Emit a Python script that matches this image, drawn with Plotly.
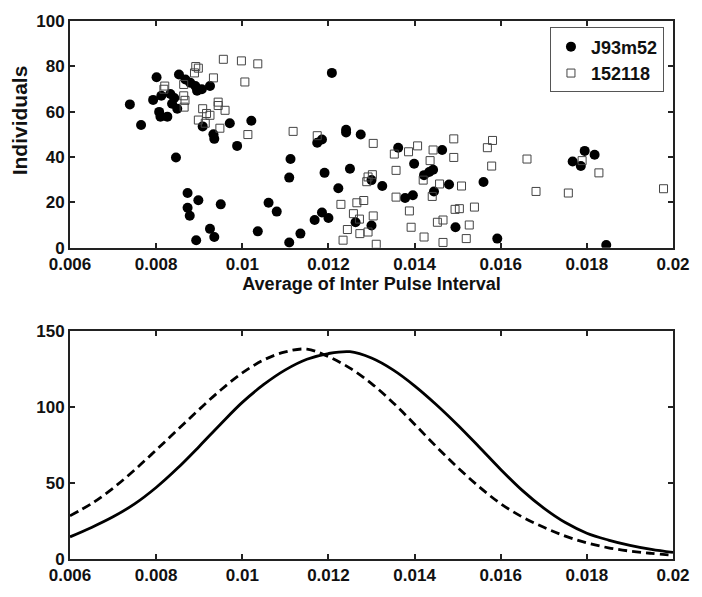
import plotly.graph_objects as go

# ---- top panel data (scatter) ----
j93_x = [0.00739, 0.00765, 0.00801, 0.00793, 0.00812, 0.00807, 0.00810, 0.00826, 0.00833, 0.00837,
         0.00849, 0.00842, 0.00853, 0.00868, 0.00879, 0.00891, 0.00895, 0.00906, 0.00925, 0.00908,
         0.00933, 0.00935, 0.00971, 0.01021, 0.00988, 0.00846, 0.00873, 0.00898, 0.00873, 0.00878,
         0.00950, 0.00925, 0.00935, 0.00893, 0.01208, 0.01112, 0.01109, 0.01174, 0.01185, 0.01191,
         0.01223, 0.01061, 0.01080, 0.01036, 0.01135, 0.01109, 0.01168, 0.01185, 0.01200, 0.01241,
         0.01241, 0.01275, 0.01362, 0.01464, 0.01250, 0.01399, 0.01300, 0.01325, 0.01422, 0.01434,
         0.01443, 0.01445, 0.01480, 0.01378, 0.01396, 0.01263, 0.01300, 0.01495, 0.01560, 0.01592,
         0.01767, 0.01786, 0.01795, 0.01818, 0.01845]
j93_y = [63.2, 54.1, 75.2, 65.2, 67.0, 59.9, 57.8, 57.8, 67.8, 63.5,
         61.3, 66.0, 76.4, 74.2, 72.8, 71.3, 69.2, 69.9, 71.3, 53.5,
         50.0, 48.0, 54.9, 56.0, 44.9, 39.8, 24.1, 20.9, 17.6, 14.1,
         19.1, 8.3, 4.7, 3.3, 77.1, 39.1, 30.9, 46.3, 47.7, 33.0,
         26.2, 19.8, 15.9, 7.2, 6.2, 2.3, 12.2, 15.5, 13.1, 52.0,
         50.8, 49.9, 44.1, 43.1, 34.8, 37.0, 29.8, 27.2, 32.0, 33.4,
         34.4, 24.8, 27.9, 21.9, 23.1, 11.2, 9.8, 9.0, 29.0, 4.0,
         38.0, 36.0, 42.7, 41.0, 1.2]

s152_x = [0.00956, 0.00892, 0.00898, 0.00889, 0.00933, 0.00864, 0.00820, 0.00818, 0.00864, 0.00867,
          0.00865, 0.00944, 0.00944, 0.00908, 0.00917, 0.00925, 0.00898, 0.00914, 0.00948, 0.00960,
          0.00998, 0.01036, 0.01006, 0.01013, 0.01118, 0.01174, 0.01304, 0.01353, 0.01407, 0.01386,
          0.01443, 0.01491, 0.01491, 0.01357, 0.01436, 0.01292, 0.01302, 0.01289, 0.01420, 0.01458,
          0.01441, 0.01357, 0.01229, 0.01266, 0.01282, 0.01258, 0.01304, 0.01272, 0.01388, 0.01453,
          0.01466, 0.01494, 0.01244, 0.01273, 0.01292, 0.01392, 0.01234, 0.01311, 0.01422, 0.01466,
          0.01581, 0.01569, 0.01579, 0.01661, 0.01509, 0.01682, 0.01757, 0.01504, 0.01539, 0.01527,
          0.01520, 0.01789, 0.01828, 0.01978]
s152_y = [83.1, 79.9, 79.2, 77.1, 74.9, 72.0, 71.3, 69.9, 67.0, 65.0,
          62.0, 64.2, 62.7, 61.3, 59.2, 58.4, 56.3, 54.9, 52.7, 60.6,
          82.4, 81.1, 73.1, 49.9, 51.3, 49.4, 46.0, 41.3, 44.9, 42.3,
          43.1, 48.0, 39.8, 34.1, 38.4, 31.2, 32.2, 29.1, 29.8, 28.1,
          22.6, 22.3, 19.1, 19.8, 20.8, 15.0, 14.0, 12.6, 16.2, 11.2,
          12.2, 16.9, 8.0, 6.2, 6.9, 9.0, 3.3, 1.5, 4.7, 2.3,
          47.3, 44.1, 36.0, 39.1, 27.2, 24.8, 24.1, 17.2, 17.9, 10.0,
          4.0, 38.4, 33.0, 26.0]

# ---- bottom panel data (curves) ----
curve_x = [0.0060, 0.0065, 0.0070, 0.0075, 0.0080, 0.0085, 0.0090, 0.0095, 0.0100, 0.0105,
           0.0110, 0.0115, 0.0120, 0.0125, 0.0130, 0.0135, 0.0140, 0.0145, 0.0150, 0.0155,
           0.0160, 0.0165, 0.0170, 0.0175, 0.0180, 0.0185, 0.0190, 0.0195, 0.0200]
solid_y = [14.6, 20.8, 27.8, 36.3, 47.1, 59.9, 74.2, 89.0, 103.2, 115.0,
           124.6, 131.6, 135.4, 136.6, 132.4, 124.6, 114.1, 101.8, 88.3, 73.8,
           59.0, 45.2, 33.5, 24.0, 17.0, 12.5, 9.0, 6.3, 4.3]
dash_y = [28.5, 36.5, 46.7, 58.7, 71.8, 85.2, 98.6, 111.4, 122.6, 131.2,
          136.5, 138.3, 133.3, 125.8, 115.6, 103.0, 88.8, 74.2, 60.3, 47.6,
          36.4, 27.7, 20.9, 15.1, 10.6, 7.4, 5.2, 3.7, 2.5]

x_ticks = [0.006, 0.008, 0.010, 0.012, 0.014, 0.016, 0.018, 0.020]
x_ticktext = ["0.006", "0.008", "0.01", "0.012", "0.014", "0.016", "0.018", "0.02"]
top_yticks = [0, 20, 40, 60, 80, 100]
bot_yticks = [0, 50, 100, 150]

FAM = "Liberation Sans, Arial, sans-serif"
FONT = dict(family=FAM, size=17, color="#111", weight="bold")
TITLE_FONT = dict(family=FAM, size=18, color="#111", weight="bold")
LEG_FONT = dict(family=FAM, size=18, color="#111", weight="bold")

fig = go.Figure()
fig.add_trace(go.Scatter(x=j93_x, y=j93_y, mode="markers", name="J93m52",
                         marker=dict(symbol="circle", size=10, color="black"),
                         xaxis="x", yaxis="y"))
fig.add_trace(go.Scatter(x=s152_x, y=s152_y, mode="markers", name="152118",
                         marker=dict(symbol="square-open", size=8, color="#444",
                                     line=dict(width=1, color="#444")),
                         xaxis="x", yaxis="y"))
fig.add_trace(go.Scatter(x=curve_x, y=solid_y, mode="lines", showlegend=False,
                         line=dict(color="black", width=2.8, shape="spline", smoothing=1.0),
                         xaxis="x2", yaxis="y2"))
fig.add_trace(go.Scatter(x=curve_x, y=dash_y, mode="lines", showlegend=False,
                         line=dict(color="black", width=2.8, shape="spline", smoothing=1.0,
                                   dash="9px,5px"),
                         xaxis="x2", yaxis="y2"))

axis_common = dict(showgrid=False, zeroline=False, showline=True, linecolor="#222", linewidth=2,
                   mirror="ticks", ticks="inside", ticklen=5, tickwidth=1.5, tickcolor="#222",
                   tickfont=FONT)

fig.update_layout(
    width=702, height=597,
    margin=dict(l=70, r=22, t=15, b=29),
    paper_bgcolor="white", plot_bgcolor="white",
    font=FONT,
    xaxis=dict(domain=[0, 1], anchor="y", range=[0.006, 0.02], tickvals=x_ticks, ticktext=x_ticktext,
               title=dict(text="Average of Inter Pulse Interval", font=TITLE_FONT, standoff=0),
               **axis_common),
    yaxis=dict(domain=[0.5787, 1.0], anchor="x", range=[0, 100], tickvals=top_yticks, **axis_common),
    xaxis2=dict(domain=[0, 1], anchor="y2", range=[0.006, 0.02], tickvals=x_ticks, ticktext=x_ticktext,
                **axis_common),
    yaxis2=dict(domain=[0, 0.4231], anchor="x2", range=[0, 150], tickvals=bot_yticks, **axis_common),
    legend=dict(x=0.985, y=0.988, xanchor="right", yanchor="top", bgcolor="white",
                bordercolor="#555", borderwidth=1, font=LEG_FONT, itemwidth=30, tracegroupgap=0),
    showlegend=True,
    annotations=[dict(text="Individuals", textangle=-90, xref="paper", yref="paper",
                      x=-0.0844, y=0.8156, xanchor="center", yanchor="middle", showarrow=False,
                      font=dict(family=FAM, size=21, color="#111", weight="bold"))],
)

fig.write_html("out.html")
